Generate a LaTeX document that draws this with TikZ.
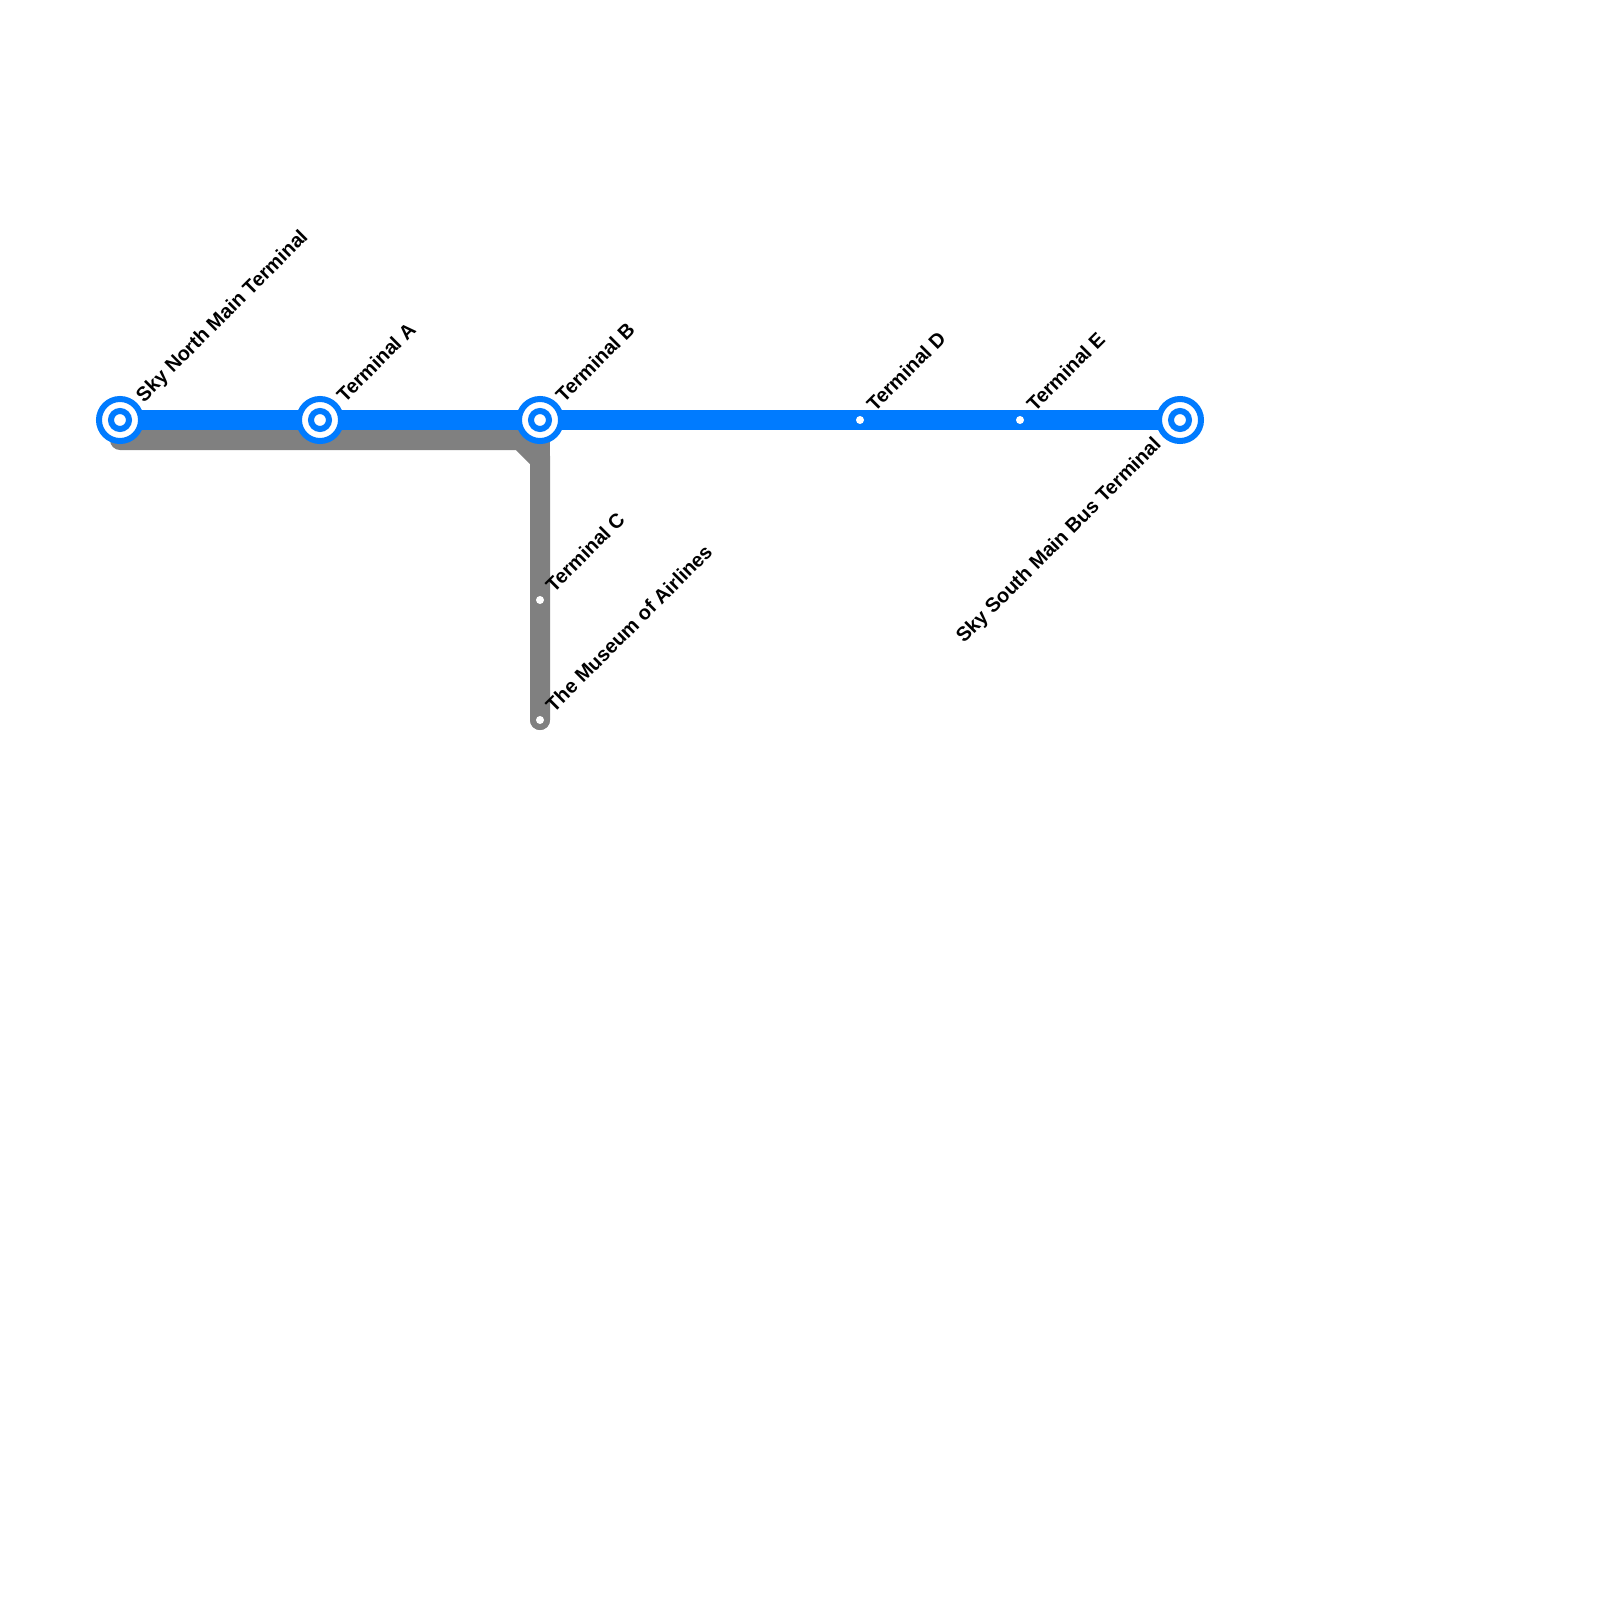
\documentclass[tikz,border=0pt]{standalone}
\usepackage{xcolor}
\usepackage{fontspec}
\setmainfont{Liberation Sans}
\definecolor{lineblue}{HTML}{007BFF}
\definecolor{linegray}{HTML}{808080}
\begin{document}
\begin{tikzpicture}[y=-0.01cm,x=0.01cm,
	blueline/.style={line width=0.2cm,color=lineblue},
	grayline/.style={line width=0.2cm,color=linegray,line cap=round,line join=miter},
	terminus/.style={circle,draw=lineblue,fill=white,line width=0.06cm,minimum size=0.42cm,inner sep=0,outer sep=0},
	hub/.style={circle,draw=lineblue,fill=white,line width=0.06cm,minimum size=0.18cm,inner sep=0,outer sep=0},
	halt/.style={circle,fill=white,minimum size=0.08cm,inner sep=0,outer sep=0},
	stoplabel/.style={rotate=45,inner sep=0,outer sep=0,font=\fontsize{5.69pt}{6.8pt}\selectfont\bfseries}]
	\useasboundingbox (0,0) rectangle (1600,1600);

	\coordinate (north) at (120,420);
	\coordinate (terma) at (320,420);
	\coordinate (termb) at (540,420);
	\coordinate (termc) at (540,600);
	\coordinate (termd) at (860,420);
	\coordinate (terme) at (1020,420);
	\coordinate (south) at (1180,420);
	\coordinate (museum) at (540,720);
	\coordinate (graystart) at (120,440);
	\coordinate (graybend) at (520,440);
	\coordinate (grayturn) at (540,460);

	\draw [grayline] (graystart) -- (graybend) -- (grayturn) -- (museum);
	\draw [grayline] (termb) -- (museum);
	\draw [blueline] (north) -- (south);

	\node [terminus] (northo) at (north) {};
	\node [terminus] (termao) at (terma) {};
	\node [terminus] (termbo) at (termb) {};
	\node [terminus] (southo) at (south) {};
	\node [hub] (northi) at (north) {};
	\node [hub] (termai) at (terma) {};
	\node [hub] (termbi) at (termb) {};
	\node [hub] (southi) at (south) {};
	\node [halt] (termcd) at (termc) {};
	\node [halt] (termdd) at (termd) {};
	\node [halt] (termed) at (terme) {};
	\node [halt] (museumd) at (museum) {};

	\node [stoplabel,anchor=base west] (northl) at (144,403) {Sky North Main Terminal};
	\node [stoplabel,anchor=base west] (termal) at (345,403) {Terminal A};
	\node [stoplabel,anchor=base west] (termbl) at (564,403) {Terminal B};
	\node [stoplabel,anchor=base west] (termcl) at (554,593) {Terminal C};
	\node [stoplabel,anchor=base west] (termdl) at (875,412) {Terminal D};
	\node [stoplabel,anchor=base west] (termel) at (1035,412) {Terminal E};
	\node [stoplabel,anchor=base west] (museuml) at (554,713) {The Museum of Airlines};
	\node [stoplabel,anchor=base east] (southl) at (1162,446) {Sky South Main Bus Terminal};
\end{tikzpicture}
\end{document}
